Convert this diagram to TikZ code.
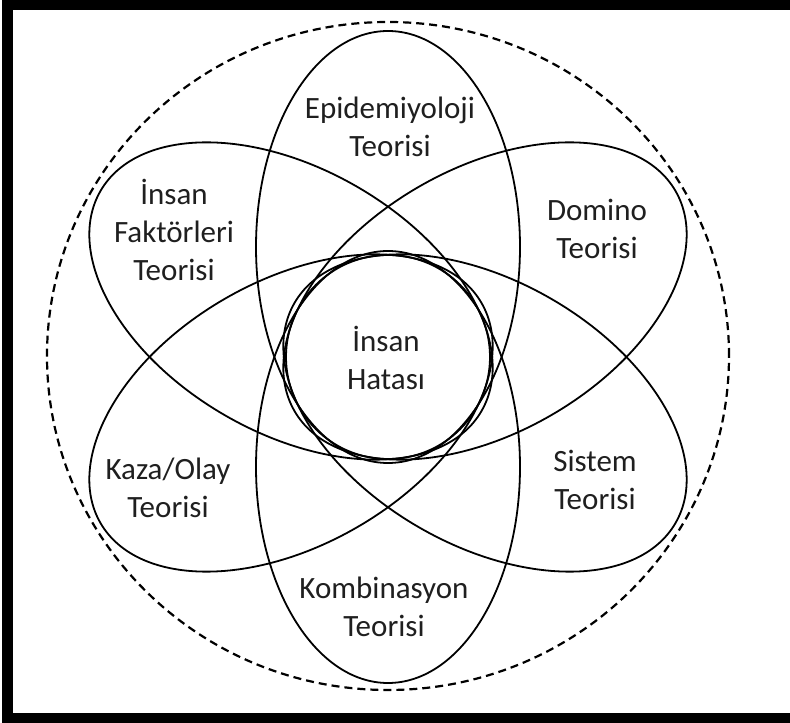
\documentclass[tikz,border=0pt]{standalone}
\usepackage{fontspec}
\setmainfont{Carlito}
\begin{document}
\begin{tikzpicture}[x=1pt,y=1pt,
  petal/.style={draw=black,line width=1.8pt},
  lbl/.style={align=center,font=\fontsize{31}{38}\selectfont,text=black!88,inner sep=0pt}]
\useasboundingbox (0,0) rectangle (790,723);
% frame (no right edge)
\draw[line width=11pt] (790,718.5) -- (7.5,718.5) -- (7.5,4.5) -- (790,4.5);
% outer dashed circle
\draw[line width=2.2pt,dash pattern=on 8pt off 5pt] (388,367) ellipse [x radius=341pt,y radius=334pt];
% petals
\begin{scope}[shift={(388,366)}]
  \draw[petal,rotate=90]  (110,0) ellipse [x radius=216pt,y radius=132pt];
  \draw[petal,rotate=-90] (110,0) ellipse [x radius=216pt,y radius=132pt];
  \draw[petal,rotate=30]  (112,0) ellipse [x radius=220pt,y radius=132pt];
  \draw[petal,rotate=-30] (112,0) ellipse [x radius=220pt,y radius=132pt];
  \draw[petal,rotate=150] (112,0) ellipse [x radius=220pt,y radius=132pt];
  \draw[petal,rotate=-150](112,0) ellipse [x radius=220pt,y radius=132pt];
  \draw[petal] (0,0) circle [radius=102pt];
\end{scope}
% labels
\node[lbl] (epi) at (390,723-127) {Epidemiyoloji\\Teorisi};
\node[lbl] (dom) at (597,723-229) {Domino\\Teorisi};
\node[lbl] (ins) at (174,723-230) {İnsan\\Faktörleri\\Teorisi};
\node[lbl] (hat) at (386,723-358) {İnsan\\Hatası};
\node[lbl] (kaz) at (168,723-488) {Kaza/Olay\\Teorisi};
\node[lbl] (sis) at (595,723-480) {Sistem\\Teorisi};
\node[lbl] (kom) at (384,723-607) {Kombinasyon\\Teorisi};
\end{tikzpicture}
\end{document}
